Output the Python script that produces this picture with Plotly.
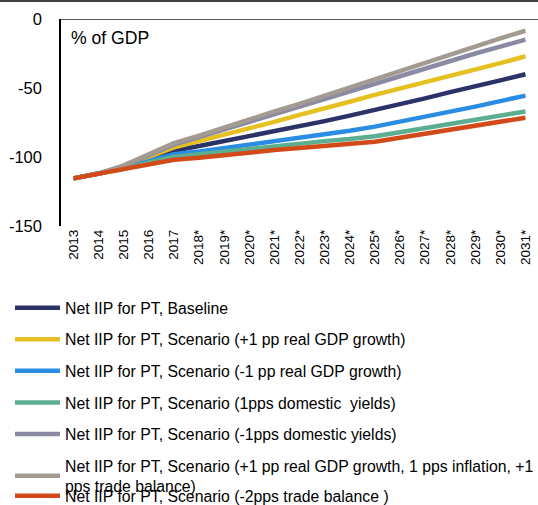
import plotly.graph_objects as go

years = ["2013", "2014", "2015", "2016", "2017", "2018*", "2019*", "2020*", "2021*", "2022*",
         "2023*", "2024*", "2025*", "2026*", "2027*", "2028*", "2029*", "2030*", "2031*"]

baseline = [-115.5, -112, -107.5, -101.5, -95.5, -92, -88.5, -85, -81.5, -77.5,
            -74, -70, -66, -62, -57.5, -53, -49, -44.5, -40]
gdp_plus = [-115.5, -112, -107, -100, -93, -88.5, -84, -79, -74.5, -69.5,
            -65, -60, -55, -50.5, -46, -41, -36.5, -32, -27]
gdp_minus = [-115.5, -112, -108, -103, -98, -96, -93.5, -91.5, -89, -86.5,
             -83.5, -81, -78, -74.5, -71, -67, -63.5, -59.5, -55.5]
yields_plus = [-115.5, -112, -108.5, -104, -100, -98, -96, -94, -92, -90.5,
               -88.5, -87, -85, -82, -79, -76, -73, -70, -67]
yields_minus = [-115.5, -112, -106.5, -98.5, -91, -85.5, -80, -74.5, -69, -63.5,
                -58, -52, -46.5, -41, -36, -30.5, -25, -20, -15]
combo = [-115.5, -112, -106, -98, -90, -84.5, -78.5, -73, -67, -61.5,
         -55.5, -50, -44, -38, -32, -26, -20, -14, -8.5]
trade_minus = [-115.5, -112, -109, -105.5, -102, -100.5, -98.5, -97, -95, -93.5,
               -92, -90.5, -89, -86, -83, -80, -77, -74.5, -71.5]

series = [
    ("Net IIP for PT, Baseline", baseline, "#2B3268", "legend"),
    ("Net IIP for PT, Scenario (+1 pp real GDP growth)", gdp_plus, "#E6C020", "legend"),
    ("Net IIP for PT, Scenario (-1 pp real GDP growth)", gdp_minus, "#2A8CE2", "legend"),
    ("Net IIP for PT, Scenario (1pps domestic  yields)", yields_plus, "#5BAE8F", "legend"),
    ("Net IIP for PT, Scenario (-1pps domestic yields)", yields_minus, "#8A8BA2", "legend"),
    ("Net IIP for PT, Scenario (+1 pp real GDP growth, 1 pps inflation, +1<br>pps trade balance)", combo, "#A39A92", "legend"),
    ("Net IIP for PT, Scenario (-2pps trade balance )", trade_minus, "#D24A18", "legend2"),
]

fig = go.Figure()
for i, (name, vals, color, lg) in enumerate(series):
    fig.add_trace(go.Scatter(
        x=years, y=vals, name=name, mode="lines",
        line=dict(color=color, width=4.5),
        legendgroup=f"g{i}", legend=lg,
    ))

font_family = "Liberation Sans, Arial, sans-serif"
W, H = 538, 505

fig.update_layout(
    width=W, height=H,
    margin=dict(l=61, r=0, t=19, b=279, autoexpand=False),
    paper_bgcolor="white", plot_bgcolor="white",
    font=dict(family=font_family, color="black"),
    showlegend=True,
    legend=dict(
        xref="container", yref="container",
        x=10 / W, xanchor="left", y=1 - 291 / H, yanchor="top",
        font=dict(size=15.8, family=font_family, color="black"),
        tracegroupgap=8, traceorder="grouped", itemwidth=45,
        bgcolor="rgba(0,0,0,0)",
    ),
    legend2=dict(
        xref="container", yref="container",
        x=10 / W, xanchor="left", y=1 - 479 / H, yanchor="top",
        font=dict(size=15.8, family=font_family, color="black"),
        itemwidth=45,
        bgcolor="rgba(0,0,0,0)",
    ),
    xaxis=dict(
        type="category", range=[-0.5, 18.5], tickangle=-90, showgrid=False, showline=False,
        ticks="", tickfont=dict(size=13.5, family=font_family), automargin=False,
    ),
    yaxis=dict(
        range=[-150, 0], tickvals=[0, -50, -100, -150], ticktext=["0", "-50", "-100", "-150"],
        showgrid=False, showline=True, linecolor="black", linewidth=1.5,
        zeroline=False,
        ticks="", ticklabelstandoff=14, tickfont=dict(size=16.5, family=font_family),
        automargin=False,
    ),
    annotations=[dict(
        text="% of GDP", x=0.0164, y=0.908, xref="paper", yref="paper",
        xanchor="left", yanchor="middle", showarrow=False,
        font=dict(size=17.6, family=font_family, color="black"),
    )],
    shapes=[
        dict(type="line", xref="paper", yref="y", x0=0, x1=1, y0=0, y1=0,
             line=dict(color="#222222", width=1.5)),
        dict(type="line", xref="paper", yref="paper",
             x0=-0.2, x1=1.0, y0=1 + 18 / 207, y1=1 + 18 / 207,
             line=dict(color="black", width=1.5)),
    ],
)

fig.write_html("out.html", config={"displayModeBar": False},
               post_script="document.body.style.margin='0px';")
